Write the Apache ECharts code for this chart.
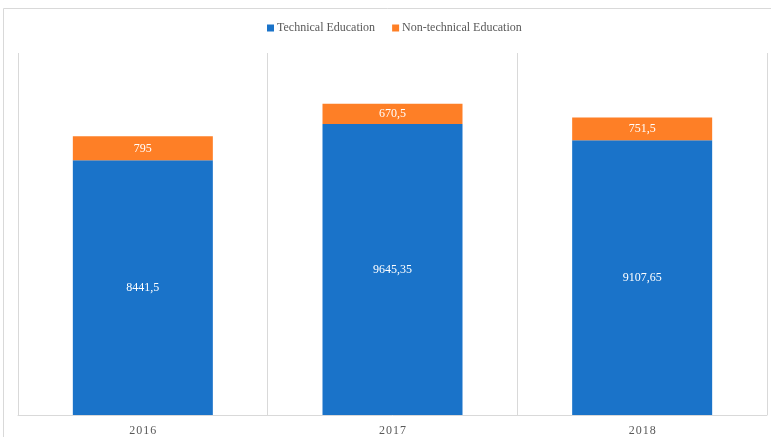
<!DOCTYPE html>
<html>
<head>
<meta charset="utf-8">
<script src="https://cdn.jsdelivr.net/npm/echarts@6/dist/echarts.min.js"></script>
<style>
  html, body { margin: 0; padding: 0; background: #ffffff; }
  #chart { width: 771px; height: 437px; }
</style>
</head>
<body>
<div id="chart"></div>
<script>
// Education spending by year, split into technical and non-technical
const years = ['2016', '2017', '2018'];
const technical = [8441.5, 9645.35, 9107.65];
const nonTechnical = [795, 670.5, 751.5];

const seriesNames = ['Technical Education', 'Non-technical Education'];
const colors = ['#1a73c9', '#fe7f26'];

// Decimal comma formatting for the value labels
const fmt = p => String(p.value).replace('.', ',');

const chart = echarts.init(document.getElementById('chart'), null, { renderer: 'canvas' });

chart.setOption({
  animation: false,
  backgroundColor: '#ffffff',
  textStyle: { fontFamily: 'Liberation Serif' },
  graphic: [{
    type: 'rect',
    silent: true,
    shape: { x: 3.5, y: 8.5, width: 820, height: 500 },
    style: { fill: 'none', stroke: '#d9d9d9', lineWidth: 1 }
  }],
  legend: {
    left: 262,
    top: 17,
    itemWidth: 7,
    itemHeight: 7,
    itemGap: 17,
    icon: 'rect',
    textStyle: { color: '#595959', fontSize: 12, fontFamily: 'Liberation Serif', padding: [0, 0, 0, -2] },
    data: seriesNames
  },
  grid: { left: 18, right: 4, top: 53, bottom: 22, containLabel: false },
  xAxis: {
    type: 'category',
    data: years,
    boundaryGap: true,
    axisLine: { show: true, lineStyle: { color: '#d9d9d9', width: 1 } },
    axisTick: { show: false },
    splitLine: { show: true, lineStyle: { color: '#d9d9d9', width: 1 } },
    axisLabel: {
      color: '#595959',
      fontSize: 12,
      fontFamily: 'Liberation Serif',
      margin: 10,
      formatter: v => v.split('').join('\u200A')
    }
  },
  yAxis: {
    type: 'value',
    min: 0,
    max: 12000,
    show: false,
    splitLine: { show: false }
  },
  series: [
    {
      name: seriesNames[0],
      type: 'bar',
      stack: 'total',
      barWidth: 140,
      data: technical,
      itemStyle: { color: colors[0] },
      label: {
        show: true,
        position: 'inside',
        color: '#ffffff',
        fontSize: 12,
        fontFamily: 'Liberation Serif',
        formatter: fmt
      }
    },
    {
      name: seriesNames[1],
      type: 'bar',
      stack: 'total',
      barWidth: 140,
      data: nonTechnical,
      itemStyle: { color: colors[1] },
      label: {
        show: true,
        position: 'inside',
        color: '#ffffff',
        fontSize: 12,
        fontFamily: 'Liberation Serif',
        formatter: fmt
      }
    }
  ]
});
</script>
</body>
</html>
